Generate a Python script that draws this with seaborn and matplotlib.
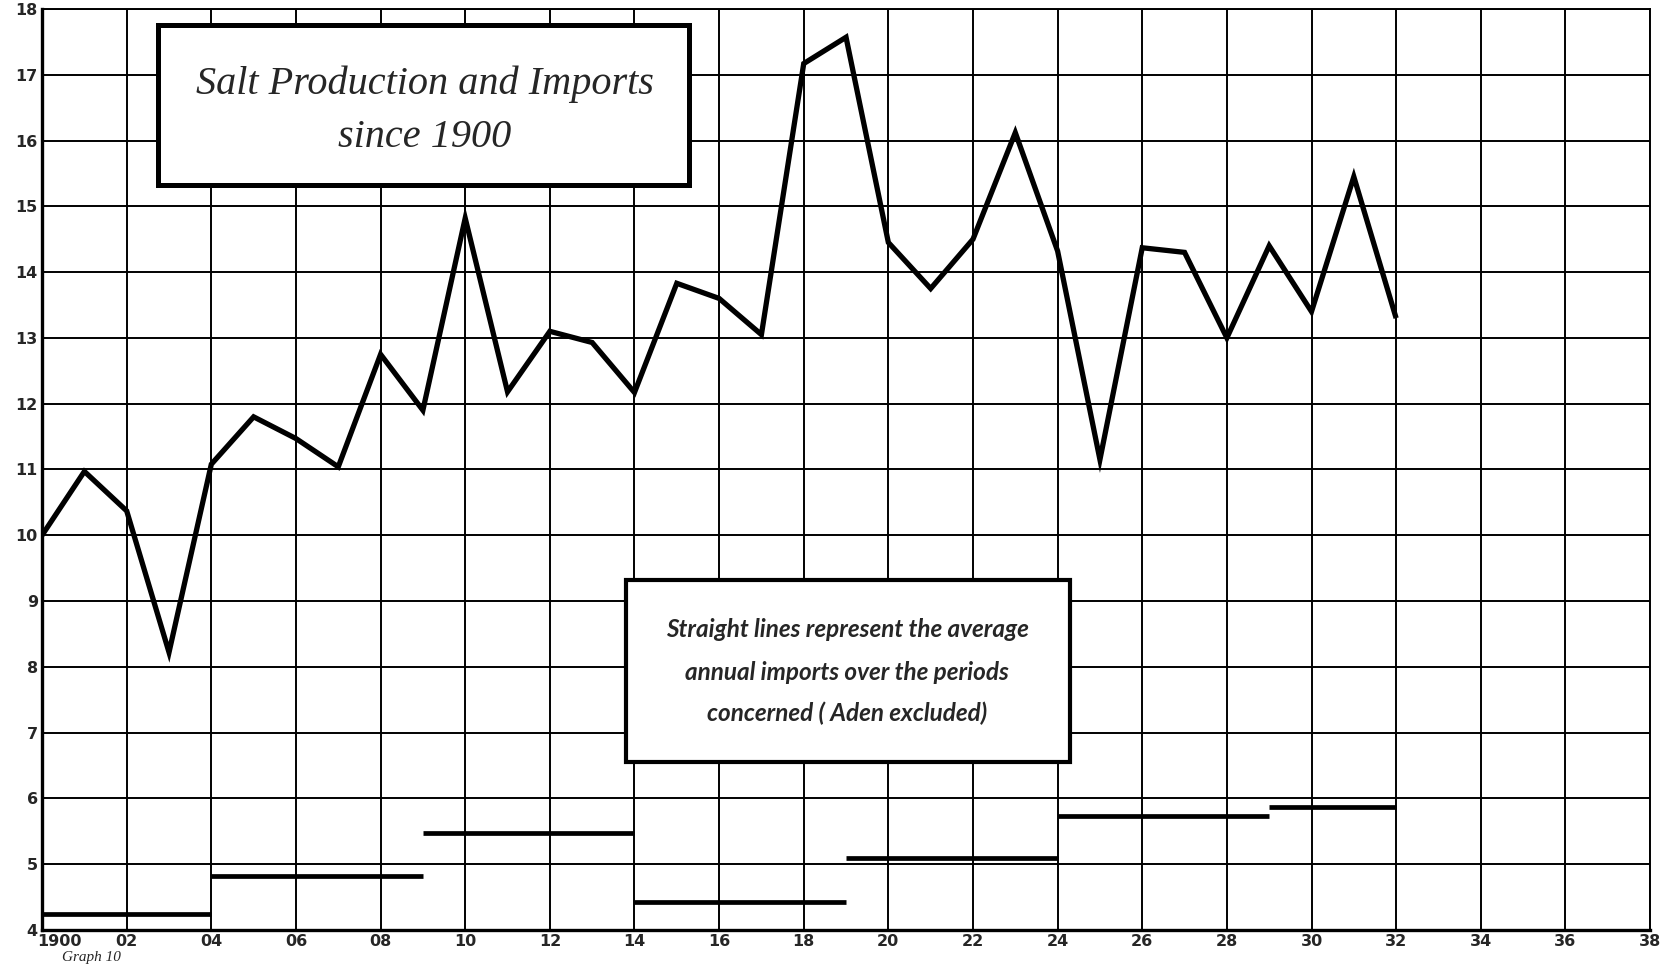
"""Salt production and imports since 1900 (Graph 10 redraw)."""
import matplotlib
matplotlib.use("Agg")
import matplotlib.pyplot as plt
import matplotlib.transforms as mtransforms
from matplotlib.patches import Rectangle
import pandas as pd
import seaborn as sns

# production line, one point per year
years = list(range(1900, 1933))
production = [10.0, 10.97, 10.37, 8.22, 11.08, 11.8, 11.47, 11.04, 12.75, 11.9,
              14.82, 12.18, 13.1, 12.93, 12.17, 13.83, 13.6, 13.05, 17.17, 17.57,
              14.45, 13.75, 14.5, 16.12, 14.32, 11.15, 14.37, 14.3, 13.0, 14.4,
              13.4, 15.45, 13.3]

# average annual imports over periods (straight lines)
period_start = [1900, 1904, 1909, 1914, 1919, 1924, 1929]
period_end = [1904, 1909, 1914, 1919, 1924, 1929, 1932]
avg_imports = [4.25, 4.82, 5.47, 4.43, 5.1, 5.73, 5.87]

x_ticks = list(range(1900, 1939, 2))
x_labels = ["1900"] + [f"{t % 100:02d}" for t in x_ticks[1:]]
y_ticks = list(range(4, 19))

NOTE_LINES = ["Straight lines represent the average",
              "annual imports over the periods",
              "concerned ( Aden excluded)"]

sns.set_style("white")
plt.rcParams["font.family"] = ["DejaVu Sans"]

fig = plt.figure(figsize=(16.76, 9.64), dpi=100)
ax = fig.add_axes([0.0251, 0.0353, 0.9594, 0.9554])

df = pd.DataFrame({"year": years, "production": production})
sns.lineplot(data=df, x="year", y="production", ax=ax, color="black", lw=3.8,
             solid_joinstyle="miter", solid_capstyle="butt", zorder=4)

ax.hlines(avg_imports, period_start, period_end, colors="black", lw=3.4, zorder=4)

ax.set_xlim(1900, 1938)
ax.set_ylim(4, 18)
ax.set_xticks(x_ticks)
ax.set_xticklabels(x_labels)
ax.set_yticks(y_ticks)
ax.set_yticklabels([str(v) for v in y_ticks])
ax.set_xlabel("")
ax.set_ylabel("")
ax.grid(True, color="black", lw=1.4)
ax.tick_params(length=0, pad=3, labelsize=11.5)
for lab in ax.get_xticklabels() + ax.get_yticklabels():
    lab.set_fontweight("bold")
    lab.set_family("DejaVu Sans")
first = ax.get_xticklabels()[0]
first.set_transform(first.get_transform()
                    + mtransforms.ScaledTranslation(0.17, 0, fig.dpi_scale_trans))

for side, sp in ax.spines.items():
    sp.set_color("black")
    sp.set_linewidth(2.4 if side in ("left", "bottom") else 1.4)

# title box
ax.add_patch(Rectangle((1902.75, 15.33), 12.55, 2.42, facecolor="white",
                       edgecolor="black", lw=3.6, zorder=5))
ax.text(1909.05, 16.86, "Salt Production and Imports", ha="center", va="center",
        fontsize=29, style="italic", family="Liberation Serif", zorder=6)
ax.text(1909.05, 16.05, "since 1900", ha="center", va="center",
        fontsize=29, style="italic", family="Liberation Serif", zorder=6)

# note box
ax.add_patch(Rectangle((1913.8, 6.56), 10.5, 2.76, facecolor="white",
                       edgecolor="black", lw=3.0, zorder=5))
for yy, line in zip([8.56, 7.92, 7.30], NOTE_LINES):
    ax.text(1919.03, yy, line, ha="center", va="center", fontsize=17.5,
            style="italic", fontweight="bold", family="Lato", zorder=6)

fig.text(62 / 1676, 0.5 / 964, "Graph 10", ha="left", va="bottom",
         fontsize=11, style="italic", family="Liberation Serif")

fig.savefig("out.png", dpi=100)
